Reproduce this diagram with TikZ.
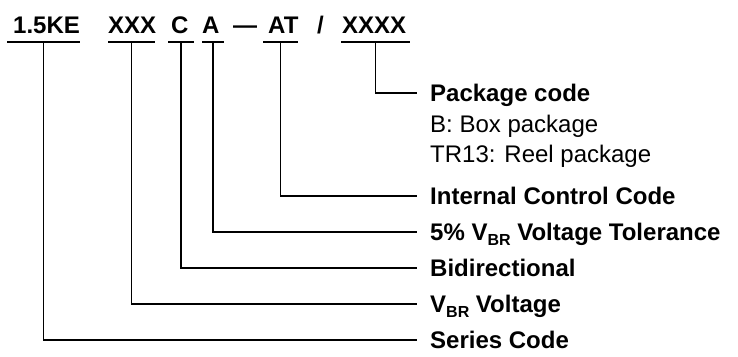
\documentclass[tikz,border=0pt]{standalone}
\usepackage{fontspec}
\setmainfont{Liberation Sans}
\usetikzlibrary{calc}
\newcommand\vbrsub[1]{\raisebox{-4.5pt}{\fontsize{16}{16}\selectfont #1}}
\begin{document}
\begin{tikzpicture}[x=1pt,y=-1pt,
  conn/.style={line width=1.7pt, line join=miter},
  codetext/.style={anchor=base west, inner sep=0pt, font=\fontsize{24}{28}\selectfont\bfseries},
  labtext/.style={anchor=west, inner sep=0pt, text height=17.2pt, text depth=0pt, font=\fontsize{24}{28}\selectfont\bfseries},
  subtext/.style={anchor=base west, inner sep=0pt, font=\fontsize{24}{28}\selectfont}
]
\useasboundingbox (0,0) rectangle (738,356);

% part-number codes
\node[codetext] (c1) at (13,33) {1.5KE};
\node[codetext] (c2) at (108,33) {XXX};
\node[codetext] (c3) at (171,33) {C};
\node[codetext] (c4) at (202,33) {A};
\node[codetext] (dash) at (233,33) {—};
\node[codetext] (c5) at (268,33) {AT};
\node[codetext] (slash) at (317,33) {/};
\node[codetext] (c6) at (342,33) {XXXX};

% underlines
\foreach \n/\a/\b in {1/7/80, 2/108/155, 3/168/194, 4/202/224, 5/263/298, 6/341/410} {
  \coordinate (ul\n) at (\a,42);
  \coordinate (ur\n) at (\b,42);
  \draw[conn] (ul\n) -- (ur\n);
  \coordinate (um\n) at ($(ul\n)!0.5!(ur\n)$);
}

% labels
\node[labtext] (l6) at (430,93) {Package code};
\node[subtext] (b6) at (430,132) {B: Box package};
\node[subtext] (t6) at (430,162) {TR13: Reel package};
\node[labtext] (l5) at (430,196) {Internal Control Code};
\node[labtext] (l4) at (430,232) {5\% V\vbrsub{BR} Voltage Tolerance};
\node[labtext] (l3) at (430,268) {Bidirectional};
\node[labtext] (l2) at (430,304) {V\vbrsub{BR} Voltage};
\node[labtext] (l1) at (430,340) {Series Code};

% connectors
\foreach \n in {1,...,6} {
  \draw[conn] (um\n) |- ([xshift=-13pt]l\n.west);
}
\end{tikzpicture}
\end{document}
